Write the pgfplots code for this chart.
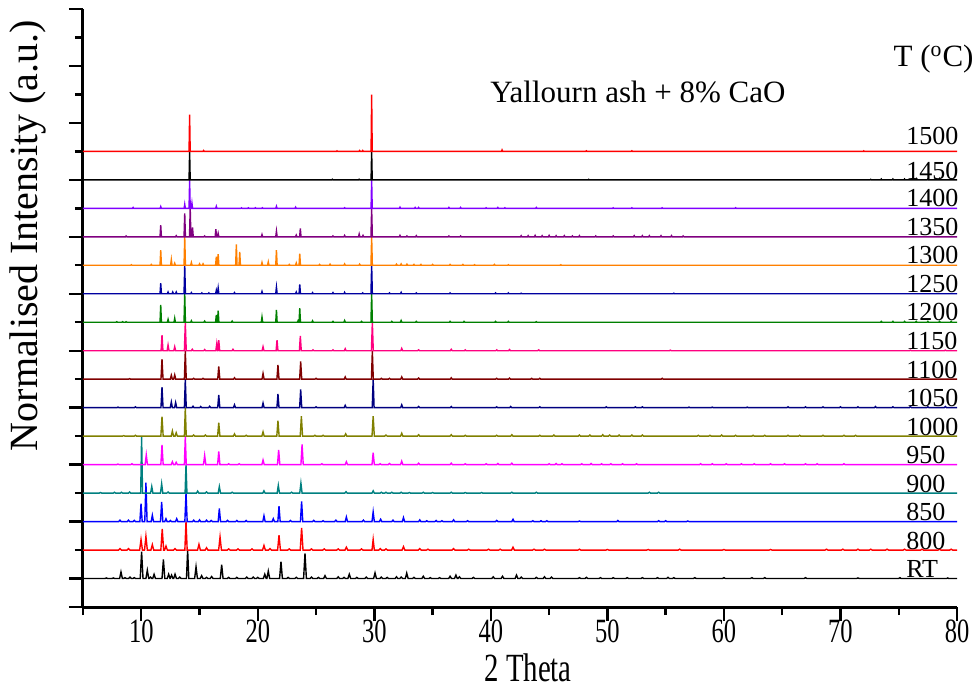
\documentclass[border=0pt]{standalone}
\usepackage{pgfplots}
\pgfplotsset{compat=1.18}
\usepackage{fontspec}
\setmainfont{Liberation Serif}
\newfontfamily\condfont[FakeStretch=0.72]{Liberation Serif}
\definecolor{cRT}{RGB}{0,0,0}
\definecolor{c800}{RGB}{255,0,0}
\definecolor{c850}{RGB}{0,0,255}
\definecolor{c900}{RGB}{0,128,128}
\definecolor{c950}{RGB}{255,0,255}
\definecolor{c1000}{RGB}{128,128,0}
\definecolor{c1050}{RGB}{0,0,128}
\definecolor{c1100}{RGB}{128,0,0}
\definecolor{c1150}{RGB}{255,0,128}
\definecolor{c1200}{RGB}{0,128,0}
\definecolor{c1250}{RGB}{0,0,160}
\definecolor{c1300}{RGB}{255,128,0}
\definecolor{c1350}{RGB}{128,0,128}
\definecolor{c1400}{RGB}{128,0,255}
\definecolor{c1450}{RGB}{0,0,0}
\definecolor{c1500}{RGB}{255,0,0}
\begin{document}
\begin{tikzpicture}
\useasboundingbox (-41.5pt,-41.5pt) rectangle (447pt,303.5pt);
\begin{axis}[
  at={(0pt,0pt)}, anchor=south west,
  scale only axis, width=437pt, height=299pt,
  xmin=5, xmax=80, ymin=0, ymax=21,
  axis lines*=left,
  axis line style={line width=1.5pt, black},
  xtick={10,20,30,40,50,60,70,80},
  minor xtick={5,15,25,35,45,55,65,75},
  ytick={0,1,3,5,7,9,11,13,15,17,19,21},
  minor ytick={2,4,6,8,10,12,14,16,18,20},
  yticklabels={},
  tick align=outside,
  major tick length=7pt, minor tick length=4pt,
  every tick/.style={black, line width=1.2pt},
  xticklabel style={font=\condfont\fontsize{17}{17}\selectfont, yshift=4pt},
  /pgf/number format/assume math mode=true,
  clip=false,
  every axis plot/.append style={line width=0.7pt, no marks},
]
% RT
\addplot[color=cRT] coordinates {(5,1) (6.88,1)(7.0,1.02)(7.12,1) (7.48,1)(7.6,1.02)(7.72,1) (8.14,1)(8.26,1.23)(8.38,1) (8.48,1)(8.6,1.03)(8.72,1) (8.91,1)(9.03,1.05)(9.15,1) (9.28,1)(9.4,1.03)(9.52,1) (9.91,1)(10.03,1.94)(10.15,1) (10.40,1)(10.52,1.29)(10.64,1) (10.68,1)(10.8,1.05)(10.92,1) (10.98,1)(11.1,1.15)(11.22,1) (11.78,1)(11.9,1.67)(12.02,1) (12.23,1)(12.35,1.15)(12.47,1) (12.48,1)(12.6,1.12)(12.72,1) (12.78,1)(12.9,1.15)(13.02,1) (13.18,1)(13.3,1.05)(13.42,1) (13.88,1)(13.98,2.0)(14.08,1) (14.58,1)(14.7,1.41)(14.82,1) (15.06,1)(15.18,1.10)(15.30,1) (15.48,1)(15.6,1.04)(15.72,1) (15.92,1)(16.04,1.07)(16.16,1) (16.78,1)(16.9,1.49)(17.02,1) (17.38,1)(17.5,1.04)(17.62,1) (18.08,1)(18.2,1.04)(18.32,1) (18.93,1)(19.05,1.05)(19.17,1) (19.48,1)(19.6,1.05)(19.72,1) (19.88,1)(20.0,1.04)(20.12,1) (20.48,1)(20.6,1.15)(20.72,1) (20.78,1)(20.9,1.26)(21.02,1) (21.87,1)(21.99,1.59)(22.11,1) (22.48,1)(22.6,1.04)(22.72,1) (23.18,1)(23.3,1.04)(23.42,1) (23.93,1)(24.05,1.88)(24.17,1) (24.48,1)(24.6,1.05)(24.72,1) (25.08,1)(25.2,1.04)(25.32,1) (25.65,1)(25.77,1.10)(25.89,1) (26.78,1)(26.9,1.06)(27.02,1) (27.28,1)(27.4,1.04)(27.52,1) (27.73,1)(27.85,1.15)(27.97,1) (28.38,1)(28.5,1.04)(28.62,1) (29.18,1)(29.3,1.05)(29.42,1) (29.94,1)(30.06,1.20)(30.18,1) (30.48,1)(30.6,1.05)(30.72,1) (30.98,1)(31.1,1.04)(31.22,1) (31.78,1)(31.9,1.06)(32.02,1) (32.18,1)(32.3,1.05)(32.42,1) (32.66,1)(32.78,1.19)(32.90,1) (33.28,1)(33.4,1.04)(33.52,1) (34.08,1)(34.2,1.08)(34.32,1) (34.68,1)(34.8,1.03)(34.92,1) (35.48,1)(35.6,1.03)(35.72,1) (36.38,1)(36.5,1.08)(36.62,1) (36.88,1)(37.0,1.12)(37.12,1) (37.18,1)(37.3,1.06)(37.42,1) (38.38,1)(38.5,1.04)(38.62,1) (40.08,1)(40.2,1.06)(40.32,1) (40.88,1)(41.0,1.08)(41.12,1) (42.08,1)(42.2,1.12)(42.32,1) (42.48,1)(42.6,1.05)(42.72,1) (43.78,1)(43.9,1.04)(44.02,1) (44.48,1)(44.6,1.06)(44.72,1) (45.08,1)(45.2,1.05)(45.32,1) (47.48,1)(47.6,1.03)(47.72,1) (48.08,1)(48.2,1.04)(48.32,1) (49.28,1)(49.4,1.03)(49.52,1) (50.38,1)(50.5,1.03)(50.62,1) (51.58,1)(51.7,1.03)(51.82,1) (52.88,1)(53.0,1.03)(53.12,1) (54.18,1)(54.3,1.03)(54.42,1) (55.08,1)(55.2,1.04)(55.32,1) (55.58,1)(55.7,1.03)(55.82,1) (57.38,1)(57.5,1.03)(57.62,1) (59.88,1)(60.0,1.03)(60.12,1) (62.28,1)(62.4,1.03)(62.52,1) (63.38,1)(63.5,1.03)(63.62,1) (66.88,1)(67.0,1.03)(67.12,1) (71.38,1)(71.5,1.02)(71.62,1) (75.0,1)(75.1,1.03)(75.2,1) (79.1,1)(79.2,1.02)(79.3,1) (80,1)};
% 800
\addplot[color=c800] coordinates {(5,2) (8.05,2)(8.17,2.05)(8.29,2) (8.78,2)(8.9,2.05)(9.02,2) (9.86,2)(9.98,2.37)(10.1,2) (10.28,2)(10.4,2.48)(10.52,2) (10.83,2)(10.95,2.19)(11.07,2) (11.68,2)(11.8,2.74)(11.92,2) (12.0,2)(12.12,2.14)(12.24,2) (12.78,2)(12.9,2.05)(13.02,2) (13.74,2)(13.84,3)(13.94,2) (14.83,2)(14.95,2.2)(15.07,2) (15.48,2)(15.6,2.08)(15.72,2) (16.64,2)(16.76,2.46)(16.88,2) (17.38,2)(17.5,2.04)(17.62,2) (18.18,2)(18.3,2.04)(18.42,2) (19.38,2)(19.5,2.04)(19.62,2) (20.41,2)(20.53,2.16)(20.65,2) (20.93,2)(21.05,2.05)(21.17,2) (21.7,2)(21.82,2.52)(21.94,2) (22.58,2)(22.7,2.04)(22.82,2) (23.64,2)(23.76,2.78)(23.88,2) (24.48,2)(24.6,2.04)(24.72,2) (25.58,2)(25.7,2.04)(25.82,2) (26.78,2)(26.9,2.04)(27.02,2) (27.48,2)(27.6,2.1)(27.72,2) (28.78,2)(28.9,2.04)(29.02,2) (29.8,2)(29.9,2.37)(30.0,2) (30.38,2)(30.5,2.05)(30.62,2) (30.88,2)(31.0,2.04)(31.12,2) (32.38,2)(32.5,2.12)(32.62,2) (33.78,2)(33.9,2.05)(34.02,2) (34.48,2)(34.6,2.03)(34.72,2) (36.68,2)(36.8,2.05)(36.92,2) (37.98,2)(38.1,2.03)(38.22,2) (39.68,2)(39.8,2.03)(39.92,2) (40.68,2)(40.8,2.03)(40.92,2) (41.78,2)(41.9,2.1)(42.02,2) (43.58,2)(43.7,2.03)(43.82,2) (44.48,2)(44.6,2.03)(44.72,2) (47.48,2)(47.6,2.03)(47.72,2) (49.88,2)(50.0,2.02)(50.12,2) (53.38,2)(53.5,2.02)(53.62,2) (56.08,2)(56.2,2.03)(56.32,2) (59.88,2)(60.0,2.02)(60.12,2) (63.88,2)(64.0,2.02)(64.12,2) (68.68,2)(68.8,2.03)(68.92,2) (70.08,2)(70.2,2.03)(70.32,2) (71.38,2)(71.5,2.03)(71.62,2) (72.48,2)(72.6,2.03)(72.72,2) (73.88,2)(74.0,2.03)(74.12,2) (75.38,2)(75.5,2.03)(75.62,2) (76.88,2)(77.0,2.03)(77.12,2) (78.38,2)(78.5,2.03)(78.62,2) (79.38,2)(79.5,2.03)(79.62,2) (80,2)};
% 850
\addplot[color=c850] coordinates {(5,3) (8.07,3)(8.17,3.05)(8.27,3) (8.8,3)(8.9,3.05)(9.0,3) (9.3,3)(9.4,3.04)(9.5,3) (9.88,3)(9.98,3.63)(10.08,3) (10.3,3)(10.4,4.37)(10.5,3) (10.85,3)(10.95,3.22)(11.05,3) (11.65,3)(11.75,3.69)(11.85,3) (12.02,3)(12.12,3.1)(12.22,3) (12.4,3)(12.5,3.04)(12.6,3) (12.94,3)(13.04,3.1)(13.14,3) (13.74,3)(13.84,4)(13.94,3) (14.4,3)(14.5,3.05)(14.6,3) (14.9,3)(15.0,3.06)(15.1,3) (15.5,3)(15.6,3.05)(15.7,3) (15.9,3)(16.0,3.04)(16.1,3) (16.6,3)(16.7,3.46)(16.8,3) (17.3,3)(17.4,3.04)(17.5,3) (18.1,3)(18.2,3.04)(18.3,3) (18.9,3)(19.0,3.04)(19.1,3) (20.43,3)(20.53,3.2)(20.63,3) (21.23,3)(21.33,3.1)(21.43,3) (21.72,3)(21.82,3.54)(21.92,3) (22.7,3)(22.8,3.04)(22.9,3) (23.66,3)(23.76,3.71)(23.86,3) (24.7,3)(24.8,3.04)(24.9,3) (25.5,3)(25.6,3.03)(25.7,3) (26.6,3)(26.7,3.05)(26.8,3) (27.5,3)(27.6,3.16)(27.7,3) (28.96,3)(29.06,3.05)(29.16,3) (29.8,3)(29.9,3.34)(30.0,3) (30.44,3)(30.54,3.08)(30.64,3) (31.5,3)(31.6,3.05)(31.7,3) (32.4,3)(32.5,3.14)(32.6,3) (33.8,3)(33.9,3.06)(34.0,3) (34.4,3)(34.5,3.03)(34.6,3) (35.2,3)(35.3,3.04)(35.4,3) (35.7,3)(35.8,3.03)(35.9,3) (36.7,3)(36.8,3.06)(36.9,3) (37.9,3)(38.0,3.03)(38.1,3) (40.4,3)(40.5,3.04)(40.6,3) (41.8,3)(41.9,3.08)(42.0,3) (43.5,3)(43.6,3.03)(43.7,3) (44.2,3)(44.3,3.03)(44.4,3) (44.7,3)(44.8,3.03)(44.9,3) (47.5,3)(47.6,3.02)(47.7,3) (50.8,3)(50.9,3.04)(51.0,3) (54.3,3)(54.4,3.03)(54.5,3) (54.9,3)(55.0,3.03)(55.1,3) (56.8,3)(56.9,3.02)(57.0,3) (80,3)};
% 900
\addplot[color=c900] coordinates {(5,4) (6.4,4)(6.5,4.02)(6.6,4) (7.6,4)(7.7,4.03)(7.8,4) (8.2,4)(8.3,4.03)(8.4,4) (8.9,4)(9.0,4.04)(9.1,4) (9.95,4)(10.03,6)(10.11,4) (10.8,4)(10.9,4.23)(11.0,4) (11.65,4)(11.75,4.33)(11.85,4) (12.2,4)(12.3,4.04)(12.4,4) (13.76,4)(13.84,5)(13.92,4) (14.74,4)(14.84,4.07)(14.94,4) (15.5,4)(15.6,4.04)(15.7,4) (16.6,4)(16.7,4.23)(16.8,4) (17.7,4)(17.8,4.03)(17.9,4) (20.43,4)(20.53,4.08)(20.63,4) (21.66,4)(21.76,4.27)(21.86,4) (22.8,4)(22.9,4.03)(23.0,4) (23.6,4)(23.7,4.35)(23.8,4) (27.47,4)(27.57,4.05)(27.67,4) (29.8,4)(29.9,4.08)(30.0,4) (30.5,4)(30.6,4.03)(30.7,4) (30.9,4)(31.0,4.03)(31.1,4) (31.4,4)(31.5,4.03)(31.6,4) (32.2,4)(32.3,4.03)(32.4,4) (32.9,4)(33.0,4.02)(33.1,4) (34.1,4)(34.2,4.03)(34.3,4) (34.9,4)(35.0,4.02)(35.1,4) (36.5,4)(36.6,4.03)(36.7,4) (37.7,4)(37.8,4.02)(37.9,4) (39.1,4)(39.2,4.02)(39.3,4) (41.7,4)(41.8,4.03)(41.9,4) (43.8,4)(43.9,4.03)(44.0,4) (53.5,4)(53.6,4.03)(53.7,4) (54.3,4)(54.4,4.03)(54.5,4) (80,4)};
% 950
\addplot[color=c950] coordinates {(5,5) (7.9,5)(8.0,5.02)(8.1,5) (9.1,5)(9.2,5.03)(9.3,5) (10.33,5)(10.43,5.34)(10.53,5) (11.68,5)(11.78,5.69)(11.88,5) (12.57,5)(12.67,5.1)(12.77,5) (12.9,5)(13.0,5.08)(13.1,5) (13.7,5)(13.78,6)(13.86,5) (15.34,5)(15.44,5.32)(15.54,5) (16.55,5)(16.65,5.46)(16.75,5) (17.4,5)(17.5,5.03)(17.6,5) (18.3,5)(18.4,5.03)(18.5,5) (20.35,5)(20.45,5.16)(20.55,5) (21.69,5)(21.79,5.52)(21.89,5) (23.7,5)(23.8,5.71)(23.9,5) (25.4,5)(25.5,5.03)(25.6,5) (27.5,5)(27.6,5.1)(27.7,5) (29.8,5)(29.9,5.42)(30.0,5) (30.4,5)(30.5,5.03)(30.6,5) (31.2,5)(31.3,5.04)(31.4,5) (32.25,5)(32.35,5.12)(32.45,5) (33.7,5)(33.8,5.05)(33.9,5) (36.5,5)(36.6,5.05)(36.7,5) (37.7,5)(37.8,5.03)(37.9,5) (39.5,5)(39.6,5.03)(39.7,5) (40.5,5)(40.6,5.04)(40.7,5) (41.7,5)(41.8,5.05)(41.9,5) (44.9,5)(45.0,5.03)(45.1,5) (45.5,5)(45.6,5.04)(45.7,5) (46.0,5)(46.1,5.03)(46.2,5) (47.7,5)(47.8,5.03)(47.9,5) (48.5,5)(48.6,5.04)(48.7,5) (49.4,5)(49.5,5.03)(49.6,5) (50.2,5)(50.3,5.03)(50.4,5) (51.2,5)(51.3,5.03)(51.4,5) (52.4,5)(52.5,5.03)(52.6,5) (57.9,5)(58.0,5.03)(58.1,5) (58.9,5)(59.0,5.03)(59.1,5) (60.1,5)(60.2,5.03)(60.3,5) (61.4,5)(61.5,5.03)(61.6,5) (62.5,5)(62.6,5.03)(62.7,5) (63.9,5)(64.0,5.03)(64.1,5) (65.1,5)(65.2,5.03)(65.3,5) (66.9,5)(67.0,5.03)(67.1,5) (67.9,5)(68.0,5.03)(68.1,5) (70.2,5)(70.3,5.03)(70.4,5) (80,5)};
% 1000
\addplot[color=c1000] coordinates {(5,6) (8.4,6)(8.5,6.02)(8.6,6) (9.4,6)(9.5,6.03)(9.6,6) (11.68,6)(11.78,6.68)(11.88,6) (12.57,6)(12.67,6.18)(12.77,6) (12.9,6)(13.0,6.12)(13.1,6) (13.7,6)(13.78,7)(13.86,6) (14.4,6)(14.5,6.04)(14.6,6) (15.4,6)(15.5,6.04)(15.6,6) (16.55,6)(16.65,6.47)(16.75,6) (17.9,6)(18.0,6.08)(18.1,6) (18.9,6)(19.0,6.03)(19.1,6) (20.35,6)(20.45,6.15)(20.55,6) (21.63,6)(21.73,6.54)(21.83,6) (23.64,6)(23.74,6.7)(23.84,6) (24.8,6)(24.9,6.03)(25.0,6) (25.5,6)(25.6,6.03)(25.7,6) (27.44,6)(27.54,6.08)(27.64,6) (29.8,6)(29.9,6.7)(30.0,6) (30.9,6)(31.0,6.04)(31.1,6) (32.25,6)(32.35,6.1)(32.45,6) (33.7,6)(33.8,6.05)(33.9,6) (36.5,6)(36.6,6.05)(36.7,6) (37.7,6)(37.8,6.03)(37.9,6) (40.4,6)(40.5,6.03)(40.6,6) (41.7,6)(41.8,6.05)(41.9,6) (44.1,6)(44.2,6.03)(44.3,6) (45.3,6)(45.4,6.04)(45.5,6) (47.5,6)(47.6,6.04)(47.7,6) (48.4,6)(48.5,6.04)(48.6,6) (49.5,6)(49.6,6.05)(49.7,6) (50.1,6)(50.2,6.04)(50.3,6) (50.9,6)(51.0,6.04)(51.1,6) (52.0,6)(52.1,6.04)(52.2,6) (52.9,6)(53.0,6.04)(53.1,6) (57.7,6)(57.8,6.03)(57.9,6) (58.7,6)(58.8,6.03)(58.9,6) (59.7,6)(59.8,6.04)(59.9,6) (60.9,6)(61.0,6.03)(61.1,6) (62.4,6)(62.5,6.03)(62.6,6) (63.4,6)(63.5,6.03)(63.6,6) (65.4,6)(65.5,6.03)(65.6,6) (66.4,6)(66.5,6.03)(66.6,6) (68.4,6)(68.5,6.03)(68.6,6) (70.2,6)(70.3,6.03)(70.4,6) (71.2,6)(71.3,6.03)(71.4,6) (80,6)};
% 1050
\addplot[color=c1050] coordinates {(5,7) (7.91,7)(8.0,7.02)(8.09,7) (9.41,7)(9.5,7.03)(9.59,7) (11.69,7)(11.78,7.72)(11.87,7) (12.49,7)(12.58,7.2)(12.67,7) (12.86,7)(12.95,7.18)(13.04,7) (13.7,7)(13.78,8)(13.86,7) (14.35,7)(14.44,7.05)(14.53,7) (15.01,7)(15.1,7.04)(15.19,7) (15.78,7)(15.87,7.05)(15.96,7) (16.56,7)(16.65,7.45)(16.74,7) (17.91,7)(18.0,7.1)(18.09,7) (20.36,7)(20.45,7.16)(20.54,7) (21.64,7)(21.73,7.48)(21.82,7) (23.59,7)(23.68,7.64)(23.77,7) (24.91,7)(25.0,7.03)(25.09,7) (27.41,7)(27.5,7.08)(27.59,7) (29.82,7)(29.9,8)(29.98,7) (32.26,7)(32.35,7.1)(32.44,7) (33.71,7)(33.8,7.04)(33.89,7) (36.51,7)(36.6,7.04)(36.69,7) (40.41,7)(40.5,7.03)(40.59,7) (41.61,7)(41.7,7.04)(41.79,7) (44.11,7)(44.2,7.03)(44.29,7) (49.81,7)(49.9,7.03)(49.99,7) (52.31,7)(52.4,7.03)(52.49,7) (52.91,7)(53.0,7.03)(53.09,7) (56.91,7)(57.0,7.02)(57.09,7) (58.91,7)(59.0,7.02)(59.09,7) (61.91,7)(62.0,7.02)(62.09,7) (65.41,7)(65.5,7.03)(65.59,7) (66.91,7)(67.0,7.03)(67.09,7) (68.41,7)(68.5,7.03)(68.59,7) (69.91,7)(70.0,7.03)(70.09,7) (71.41,7)(71.5,7.03)(71.59,7) (72.91,7)(73.0,7.04)(73.09,7) (74.41,7)(74.5,7.03)(74.59,7) (75.91,7)(76.0,7.04)(76.09,7) (77.41,7)(77.5,7.03)(77.59,7) (78.91,7)(79.0,7.04)(79.09,7) (80,7)};
% 1100
\addplot[color=c1100] coordinates {(5,8) (8.91,8)(9.0,8.02)(9.09,8) (11.69,8)(11.78,8.7)(11.87,8) (12.49,8)(12.58,8.14)(12.67,8) (12.78,8)(12.87,8.15)(12.96,8) (13.7,8)(13.78,9)(13.86,8) (14.41,8)(14.5,8.03)(14.59,8) (15.21,8)(15.3,8.03)(15.39,8) (16.56,8)(16.65,8.45)(16.74,8) (17.91,8)(18.0,8.05)(18.09,8) (20.36,8)(20.45,8.2)(20.54,8) (21.64,8)(21.73,8.5)(21.82,8) (23.59,8)(23.68,8.62)(23.77,8) (24.91,8)(25.0,8.03)(25.09,8) (27.41,8)(27.5,8.08)(27.59,8) (29.75,8)(29.83,9)(29.91,8) (30.51,8)(30.6,8.03)(30.69,8) (31.21,8)(31.3,8.03)(31.39,8) (32.26,8)(32.35,8.08)(32.44,8) (33.71,8)(33.8,8.04)(33.89,8) (36.51,8)(36.6,8.05)(36.69,8) (40.41,8)(40.5,8.03)(40.59,8) (41.51,8)(41.6,8.04)(41.69,8) (43.41,8)(43.5,8.03)(43.59,8) (44.11,8)(44.2,8.03)(44.29,8) (54.61,8)(54.7,8.03)(54.79,8) (80,8)};
% 1150
\addplot[color=c1150] coordinates {(5,9) (11.7,9)(11.78,9.55)(11.86,9) (12.22,9)(12.3,9.2)(12.38,9) (12.79,9)(12.87,9.14)(12.95,9) (13.7,9)(13.78,10)(13.86,9) (14.3,9)(14.38,9.05)(14.46,9) (15.36,9)(15.44,9.04)(15.52,9) (16.4,9)(16.48,9.25)(16.56,9) (16.57,9)(16.65,9.37)(16.73,9) (17.79,9)(17.87,9.05)(17.95,9) (20.37,9)(20.45,9.14)(20.53,9) (21.57,9)(21.65,9.37)(21.73,9) (23.57,9)(23.65,9.52)(23.73,9) (24.66,9)(24.74,9.03)(24.82,9) (26.37,9)(26.45,9.03)(26.53,9) (27.42,9)(27.5,9.07)(27.58,9) (29.75,9)(29.83,10)(29.91,9) (32.27,9)(32.35,9.08)(32.43,9) (33.72,9)(33.8,9.03)(33.88,9) (36.52,9)(36.6,9.05)(36.68,9) (37.72,9)(37.8,9.03)(37.88,9) (40.42,9)(40.5,9.03)(40.58,9) (41.52,9)(41.6,9.04)(41.68,9) (44.02,9)(44.1,9.03)(44.18,9) (55.32,9)(55.4,9.02)(55.48,9) (75.92,9)(76.0,9.02)(76.08,9) (78.92,9)(79.0,9.02)(79.08,9) (80,9)};
% 1200
\addplot[color=c1200] coordinates {(5,10) (7.84,10)(7.9,10.02)(7.96,10) (8.34,10)(8.4,10.02)(8.46,10) (8.64,10)(8.7,10.02)(8.76,10) (11.61,10)(11.67,10.61)(11.73,10) (12.24,10)(12.3,10.1)(12.36,10) (12.81,10)(12.87,10.14)(12.93,10) (13.67,10)(13.73,11)(13.79,10) (14.24,10)(14.3,10.05)(14.36,10) (15.38,10)(15.44,10.04)(15.5,10) (16.38,10)(16.44,10.26)(16.5,10) (16.54,10)(16.6,10.41)(16.66,10) (17.74,10)(17.8,10.04)(17.86,10) (20.3,10)(20.36,10.18)(20.42,10) (21.54,10)(21.6,10.43)(21.66,10) (23.39,10)(23.45,10.05)(23.51,10) (23.54,10)(23.6,10.49)(23.66,10) (24.64,10)(24.7,10.05)(24.76,10) (26.39,10)(26.45,10.03)(26.51,10) (27.39,10)(27.45,10.06)(27.51,10) (28.84,10)(28.9,10.03)(28.96,10) (29.71,10)(29.77,11)(29.83,10) (31.44,10)(31.5,10.03)(31.56,10) (32.24,10)(32.3,10.06)(32.36,10) (33.54,10)(33.6,10.03)(33.66,10) (36.44,10)(36.5,10.03)(36.56,10) (37.64,10)(37.7,10.03)(37.76,10) (40.34,10)(40.4,10.03)(40.46,10) (41.44,10)(41.5,10.03)(41.56,10) (43.84,10)(43.9,10.02)(43.96,10) (73.44,10)(73.5,10.03)(73.56,10) (74.44,10)(74.5,10.03)(74.56,10) (75.44,10)(75.5,10.03)(75.56,10) (76.44,10)(76.5,10.03)(76.56,10) (77.44,10)(77.5,10.03)(77.56,10) (78.44,10)(78.5,10.03)(78.56,10) (79.44,10)(79.5,10.03)(79.56,10) (80,10)};
% 1250
\addplot[color=c1250] coordinates {(5,11) (11.61,11)(11.67,11.37)(11.73,11) (12.24,11)(12.3,11.06)(12.36,11) (12.64,11)(12.7,11.06)(12.76,11) (12.94,11)(13.0,11.06)(13.06,11) (13.67,11)(13.73,12)(13.79,11) (14.24,11)(14.3,11.04)(14.36,11) (15.14,11)(15.2,11.03)(15.26,11) (15.74,11)(15.8,11.03)(15.86,11) (16.38,11)(16.44,11.12)(16.5,11) (16.54,11)(16.6,11.2)(16.66,11) (17.94,11)(18.0,11.04)(18.06,11) (20.3,11)(20.36,11.08)(20.42,11) (21.54,11)(21.6,11.23)(21.66,11) (23.24,11)(23.3,11.06)(23.36,11) (23.54,11)(23.6,11.33)(23.66,11) (24.64,11)(24.7,11.04)(24.76,11) (26.39,11)(26.45,11.04)(26.51,11) (27.39,11)(27.45,11.05)(27.51,11) (28.94,11)(29.0,11.03)(29.06,11) (29.71,11)(29.77,12)(29.83,11) (31.24,11)(31.3,11.03)(31.36,11) (32.24,11)(32.3,11.05)(32.36,11) (33.54,11)(33.6,11.03)(33.66,11) (36.44,11)(36.5,11.03)(36.56,11) (40.34,11)(40.4,11.03)(40.46,11) (41.44,11)(41.5,11.03)(41.56,11) (42.54,11)(42.6,11.02)(42.66,11) (55.64,11)(55.7,11.02)(55.76,11) (80,11)};
% 1300
\addplot[color=c1300] coordinates {(5,12) (9.09,12)(9.15,12.02)(9.21,12) (10.8,12)(10.86,12.03)(10.92,12) (11.61,12)(11.67,12.53)(11.73,12) (12.52,12)(12.58,12.2)(12.64,12) (12.81,12)(12.87,12.07)(12.93,12) (13.67,12)(13.73,13)(13.79,12) (14.24,12)(14.3,12.1)(14.36,12) (14.94,12)(15.0,12.05)(15.06,12) (15.24,12)(15.3,12.05)(15.36,12) (16.38,12)(16.44,12.3)(16.5,12) (16.54,12)(16.6,12.39)(16.66,12) (18.1,12)(18.16,12.73)(18.22,12) (18.39,12)(18.45,12.47)(18.51,12) (20.3,12)(20.36,12.1)(20.42,12) (20.84,12)(20.9,12.12)(20.96,12) (21.54,12)(21.6,12.53)(21.66,12) (22.64,12)(22.7,12.03)(22.76,12) (23.24,12)(23.3,12.08)(23.36,12) (23.54,12)(23.6,12.41)(23.66,12) (25.24,12)(25.3,12.03)(25.36,12) (26.14,12)(26.2,12.04)(26.26,12) (27.39,12)(27.45,12.05)(27.51,12) (28.68,12)(28.74,12.04)(28.8,12) (29.71,12)(29.77,13)(29.83,12) (31.84,12)(31.9,12.04)(31.96,12) (32.24,12)(32.3,12.05)(32.36,12) (32.74,12)(32.8,12.04)(32.86,12) (33.34,12)(33.4,12.03)(33.46,12) (33.94,12)(34.0,12.03)(34.06,12) (34.94,12)(35.0,12.03)(35.06,12) (36.44,12)(36.5,12.03)(36.56,12) (37.54,12)(37.6,12.03)(37.66,12) (38.54,12)(38.6,12.02)(38.66,12) (40.24,12)(40.3,12.03)(40.36,12) (41.44,12)(41.5,12.02)(41.56,12) (45.94,12)(46.0,12.02)(46.06,12) (80,12)};
% 1350
\addplot[color=c1350] coordinates {(5,13) (8.64,13)(8.7,13.03)(8.76,13) (11.61,13)(11.67,13.41)(11.73,13) (12.94,13)(13.0,13.04)(13.06,13) (13.67,13)(13.73,13.82)(13.79,13) (14.14,13)(14.2,14)(14.26,13) (14.34,13)(14.4,13.33)(14.46,13) (15.38,13)(15.44,13.03)(15.5,13) (16.34,13)(16.4,13.27)(16.46,13) (16.54,13)(16.6,13.12)(16.66,13) (20.3,13)(20.36,13.08)(20.42,13) (21.54,13)(21.6,13.2)(21.66,13) (23.24,13)(23.3,13.06)(23.36,13) (23.59,13)(23.65,13.29)(23.71,13) (26.39,13)(26.45,13.03)(26.51,13) (27.39,13)(27.45,13.05)(27.51,13) (28.64,13)(28.7,13.1)(28.76,13) (28.97,13)(29.03,13.05)(29.09,13) (29.71,13)(29.77,14)(29.83,13) (32.14,13)(32.2,13.05)(32.26,13) (32.74,13)(32.8,13.03)(32.86,13) (33.54,13)(33.6,13.04)(33.66,13) (36.34,13)(36.4,13.03)(36.46,13) (37.34,13)(37.4,13.03)(37.46,13) (42.54,13)(42.6,13.04)(42.66,13) (43.14,13)(43.2,13.04)(43.26,13) (43.74,13)(43.8,13.05)(43.86,13) (44.34,13)(44.4,13.04)(44.46,13) (44.94,13)(45.0,13.05)(45.06,13) (45.54,13)(45.6,13.04)(45.66,13) (46.24,13)(46.3,13.04)(46.36,13) (46.94,13)(47.0,13.03)(47.06,13) (47.54,13)(47.6,13.04)(47.66,13) (48.94,13)(49.0,13.03)(49.06,13) (50.44,13)(50.5,13.03)(50.56,13) (52.24,13)(52.3,13.04)(52.36,13) (52.94,13)(53.0,13.04)(53.06,13) (53.54,13)(53.6,13.04)(53.66,13) (54.54,13)(54.6,13.04)(54.66,13) (55.44,13)(55.5,13.04)(55.56,13) (56.44,13)(56.5,13.03)(56.56,13) (80,13)};
% 1400
\addplot[color=c1400] coordinates {(5,14) (9.25,14)(9.3,14.03)(9.35,14) (11.62,14)(11.67,14.06)(11.72,14) (13.68,14)(13.73,14.14)(13.78,14) (14.1,14)(14.15,15)(14.2,14) (14.3,14)(14.35,14.18)(14.4,14) (16.39,14)(16.44,14.07)(16.49,14) (18.55,14)(18.6,14.02)(18.65,14) (19.15,14)(19.2,14.02)(19.25,14) (19.75,14)(19.8,14.02)(19.85,14) (20.35,14)(20.4,14.02)(20.45,14) (21.55,14)(21.6,14.07)(21.65,14) (23.2,14)(23.25,14.04)(23.3,14) (27.4,14)(27.45,14.02)(27.5,14) (29.72,14)(29.77,15)(29.82,14) (32.15,14)(32.2,14.04)(32.25,14) (33.45,14)(33.5,14.03)(33.55,14) (33.75,14)(33.8,14.03)(33.85,14) (36.35,14)(36.4,14.03)(36.45,14) (37.35,14)(37.4,14.03)(37.45,14) (39.55,14)(39.6,14.02)(39.65,14) (40.55,14)(40.6,14.03)(40.65,14) (41.15,14)(41.2,14.02)(41.25,14) (43.85,14)(43.9,14.03)(43.95,14) (50.45,14)(50.5,14.02)(50.55,14) (52.05,14)(52.1,14.02)(52.15,14) (54.65,14)(54.7,14.02)(54.75,14) (60.95,14)(61.0,14.02)(61.05,14) (80,14)};
% 1450
\addplot[color=c1450] coordinates {(5,15) (14.1,15)(14.15,16)(14.2,15) (26.35,15)(26.4,15.02)(26.45,15) (28.65,15)(28.7,15.02)(28.75,15) (29.72,15)(29.77,16)(29.82,15) (48.35,15)(48.4,15.02)(48.45,15) (72.55,15)(72.6,15.02)(72.65,15) (73.45,15)(73.5,15.03)(73.55,15) (74.45,15)(74.5,15.03)(74.55,15) (75.45,15)(75.5,15.03)(75.55,15) (76.45,15)(76.5,15.04)(76.55,15) (77.45,15)(77.5,15.03)(77.55,15) (78.45,15)(78.5,15.04)(78.55,15) (79.45,15)(79.5,15.03)(79.55,15) (80,15)};
% 1500
\addplot[color=c1500] coordinates {(5,16) (14.1,16)(14.15,17.29)(14.2,16) (15.3,16)(15.35,16.03)(15.4,16) (26.75,16)(26.8,16.02)(26.85,16) (28.69,16)(28.74,16.03)(28.79,16) (28.95,16)(29.0,16.03)(29.05,16) (29.72,16)(29.77,17.99)(29.82,16) (40.91,16)(40.96,16.05)(41.01,16) (48.15,16)(48.2,16.02)(48.25,16) (52.05,16)(52.1,16.02)(52.15,16) (71.95,16)(72.0,16.02)(72.05,16) (80,16)};
% labels
\begin{scope}[every node/.style={anchor=base west, inner sep=0pt, font=\fontsize{13}{13}\selectfont}]
\node at (axis cs:75.62,16.25) {1500};
\node at (axis cs:75.62,15.02) {1450};
\node at (axis cs:75.62,14.05) {1400};
\node at (axis cs:75.62,13.05) {1350};
\node at (axis cs:75.62,12.05) {1300};
\node at (axis cs:75.62,11.05) {1250};
\node at (axis cs:75.62,10.05) {1200};
\node at (axis cs:75.62,9.03) {1150};
\node at (axis cs:75.62,8.03) {1100};
\node at (axis cs:75.62,7.03) {1050};
\node at (axis cs:75.62,6.03) {1000};
\node at (axis cs:75.62,5.05) {950};
\node at (axis cs:75.62,4.03) {900};
\node at (axis cs:75.62,3.03) {850};
\node at (axis cs:75.62,2.03) {800};
\node at (axis cs:75.62,1.05) {RT};
\end{scope}
\node[anchor=base east, inner sep=0pt, font=\fontsize{15.5}{15.5}\selectfont] at (axis cs:81.45,18.98) {T (\textsuperscript{o}C)};
\node[anchor=base west, inner sep=0pt, font=\fontsize{15.5}{15.5}\selectfont] at (axis cs:39.93,17.72) {Yallourn ash + 8\% CaO};
\node[rotate=90, inner sep=0pt, font=\fontsize{20}{20}\selectfont] at (axis cs:0.28,13.04) {Normalised Intensity (a.u.)};
\node[anchor=base, inner sep=0pt, font=\condfont\fontsize{20}{20}\selectfont] at (axis cs:43.19,-2.6) {2 Theta};
\end{axis}
\end{tikzpicture}
\end{document}
